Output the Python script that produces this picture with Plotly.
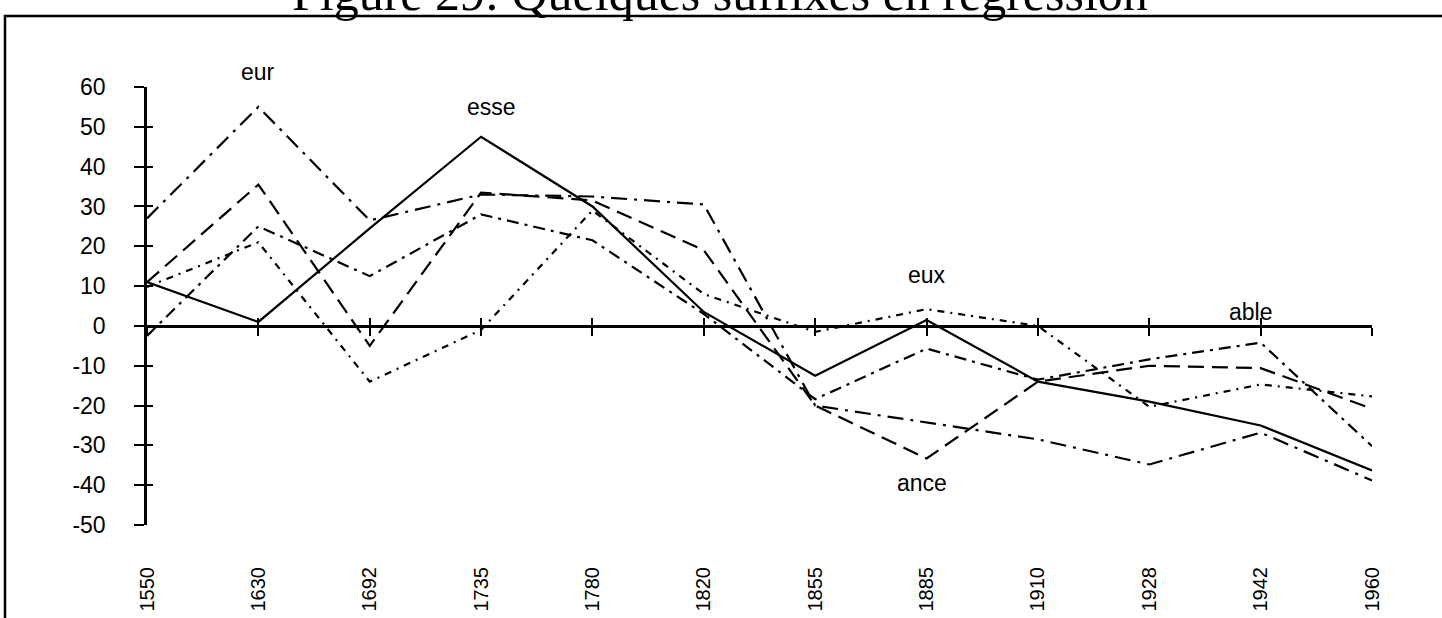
import plotly.graph_objects as go

years = ["1550", "1630", "1692", "1735", "1780", "1820", "1855", "1885", "1910", "1928", "1942", "1960"]
esse = [11, 1, 24.5, 47.5, 30, 3.5, -12.5, 1.5, -14, -19, -25, -36.3]
ance = [11, 35.5, -5, 33.5, 31.5, 19, -20, -33.3, -14, -10, -10.6, -20.8]
eur = [27, 55, 26.5, 33, 32.5, 30.5, -20, -24.3, -28.5, -34.8, -26.8, -38.8]
able = [-2.5, 25, 12.5, 28, 21.5, 3, -18.4, -5.7, -13.5, -8.4, -4.2, -30.2]
eux = [9.8, 21, -14, -1, 29, 8, -1.5, 4.2, 0, -20.3, -14.7, -17.7]
yticks = list(range(-50, 61, 10))
ytick_text = [str(v) for v in yticks]

series = [
    ("esse", esse, "solid"),
    ("ance", ance, "16px,8px"),
    ("eur", eur, "16px,7px,3px,7px"),
    ("able", able, "12px,6px,3px,6px"),
    ("eux", eux, "7px,6px,2px,6px"),
]

xi = list(range(len(years)))

W, H = 1442, 618
L, T, R, B = 147, 87, 70, 93

fig = go.Figure()
for name, vals, dash in series:
    fig.add_trace(go.Scatter(x=xi, y=vals, mode="lines", name=name,
                             line=dict(color="black", width=2.2, dash=dash),
                             cliponaxis=False))

axfont = dict(family="Liberation Sans, Arial", size=23, color="black")
xfont = dict(family="Liberation Sans, Arial", size=20, color="black")
rng_x = [0, len(years) - 1]
zero_pos = (0 - (-50)) / 110.0
plot_w = W - L - R
plot_h = H - T - B

fig.update_layout(
    width=W, height=H,
    margin=dict(l=L, r=R, t=T, b=B, autoexpand=False),
    paper_bgcolor="white", plot_bgcolor="white",
    showlegend=False,
    xaxis=dict(range=rng_x, tickvals=xi, ticktext=years, tickangle=-90,
               showgrid=False, zeroline=False, showline=False, automargin=False,
               ticks="outside", ticklen=0, ticklabelstandoff=33,
               tickfont=xfont),
    xaxis2=dict(range=rng_x, tickvals=xi, ticktext=years, overlaying="x",
                anchor="free", position=zero_pos, showgrid=False, zeroline=False,
                showline=True, linecolor="black", linewidth=2.5, automargin=False,
                ticks="outside", ticklen=8, tickwidth=2, tickcolor="black",
                showticklabels=False),
    xaxis3=dict(range=rng_x, tickvals=xi, ticktext=years, overlaying="x",
                anchor="free", position=zero_pos, showgrid=False, zeroline=False,
                showline=False, ticks="inside", ticklen=8, tickwidth=2, automargin=False,
                tickcolor="black", showticklabels=False),
    yaxis=dict(range=[-50, 60], tickvals=yticks, ticktext=ytick_text,
               showgrid=False, zeroline=False, automargin=False,
               showline=True, linecolor="black", linewidth=2.5,
               ticks="outside", ticklen=10, tickwidth=2, tickcolor="black",
               ticklabelstandoff=24, tickfont=axfont),
    yaxis2=dict(range=[-50, 60], tickvals=yticks, overlaying="y", side="left",
                anchor="x", showgrid=False, zeroline=False, showline=False,
                ticks="inside", ticklen=6, tickwidth=2, tickcolor="black",
                showticklabels=False, automargin=False),
)

fig.add_trace(go.Scatter(x=[None], y=[None], xaxis="x2", yaxis="y", showlegend=False, hoverinfo="skip"))
fig.add_trace(go.Scatter(x=[None], y=[None], xaxis="x3", yaxis="y", showlegend=False, hoverinfo="skip"))
fig.add_trace(go.Scatter(x=[None], y=[None], xaxis="x", yaxis="y2", showlegend=False, hoverinfo="skip"))

# frame (page coords: left 5, top 16)
fig.add_shape(type="rect", xref="paper", yref="paper",
              x0=(5 - L) / plot_w, x1=1.2, y0=-0.5, y1=(T + plot_h - 16) / plot_h,
              line=dict(color="black", width=2.5), fillcolor="rgba(0,0,0,0)")

# title
fig.add_annotation(text="Figure 29: Quelques suffixes en régression",
                   xref="paper", yref="paper", x=(720 - L) / plot_w,
                   y=(T + plot_h - 23) / plot_h,
                   xanchor="center", yanchor="bottom", showarrow=False,
                   font=dict(family="Liberation Serif, Times New Roman", size=50, color="black"))

labfont = dict(family="Liberation Sans, Arial", size=23, color="black")
# (label, category index, anchor value, pixel shift)
labels = [
    ("eur", 1, 55, 35),
    ("esse", 3.09, 47.5, 30),
    ("eux", 7, 4.2, 34),
    ("ance", 6.96, -33.3, -24),
    ("able", 9.91, -4.2, 31),
]
for t, x, y, s in labels:
    fig.add_annotation(text=t, x=x, y=y, xref="x", yref="y", yshift=s, showarrow=False,
                       font=labfont, xanchor="center", yanchor="middle")

fig.write_html("out.html", config={"displayModeBar": False},
               post_script="document.body.style.margin='0px';")
